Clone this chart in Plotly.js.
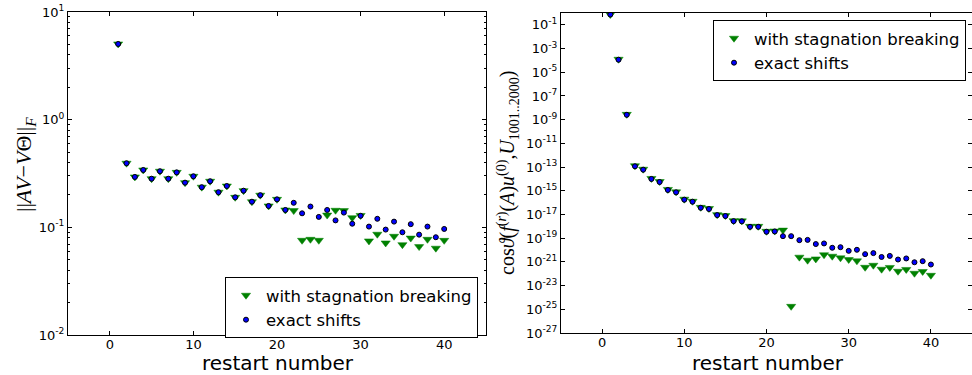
<!DOCTYPE html>
<html>
<head>
<meta charset="utf-8">
<script src="https://cdn.plot.ly/plotly-3.0.1.min.js"></script>
<style>html,body{margin:0;padding:0;background:#fff;}#chart{width:972px;height:375px;}</style>
</head>
<body>
<div id="chart"></div>
<script>
const restarts = [1,2,3,4,5,6,7,8,9,10,11,12,13,14,15,16,17,18,19,20,21,22,23,24,25,26,27,28,29,30,31,32,33,34,35,36,37,38,39,40];

// Left panel: ||AV - VΘ||_F
const leftExact = [5.05,0.394,0.294,0.341,0.283,0.332,0.283,0.324,0.260,0.298,0.236,0.268,0.212,0.242,0.190,0.219,0.173,0.199,0.158,0.182,0.145,0.169,0.135,0.156,0.125,0.145,0.116,0.137,0.108,0.128,0.1016,0.120,0.0953,0.113,0.090,0.107,0.0855,0.1016,0.0809,0.0966];
const leftStag = [5.05,0.394,0.294,0.341,0.283,0.332,0.283,0.324,0.260,0.298,0.236,0.268,0.212,0.242,0.190,0.219,0.173,0.199,0.158,0.182,0.145,0.143,0.0758,0.0774,0.0758,0.130,0.144,0.143,0.123,0.129,0.0748,0.0863,0.0716,0.0826,0.069,0.0795,0.0662,0.0774,0.064,0.0757];

// Right panel: cos angle
const rightExact = [0.741,1.15e-4,2.57e-9,1.17e-13,6.03e-14,1.0e-14,5.5e-15,1.17e-15,7.4e-16,1.78e-16,1.2e-16,3.7e-17,2.9e-17,8.9e-18,7.4e-18,2.75e-18,2.63e-18,9.1e-19,9.1e-19,3.47e-19,3.7e-19,1.48e-19,1.48e-19,6.8e-20,7.2e-20,3.2e-20,3.6e-20,1.55e-20,1.74e-20,8.5e-21,1.05e-20,4.5e-21,5.5e-21,2.6e-21,3.2e-21,1.58e-21,1.95e-21,9.3e-22,1.15e-21,6.0e-22];
const rightStag = [0.741,1.25e-4,2.8e-9,1.3e-13,6.6e-14,1.1e-14,6.0e-15,1.3e-15,8.1e-16,1.95e-16,1.3e-16,4.0e-17,3.2e-17,9.7e-18,8.1e-18,3.0e-18,2.9e-18,1.0e-18,1.0e-18,3.8e-19,4.0e-19,4.8e-19,1.78e-25,2.5e-21,1.38e-21,1.78e-21,4.0e-21,3.0e-21,2.2e-21,1.58e-21,1.23e-21,3.5e-22,5.2e-22,2.4e-22,3.4e-22,1.62e-22,2.3e-22,1.1e-22,1.55e-22,7.4e-23];

const xTicks = [0,10,20,30,40];
const leftYTicks = [0.01,0.1,1,10];
const leftYTickText = ['10<sup>-2</sup>','10<sup>-1</sup>','10<sup>0</sup>','10<sup>1</sup>'];
const rightYTicks = [1e-27,1e-25,1e-23,1e-21,1e-19,1e-17,1e-15,1e-13,1e-11,1e-9,1e-7,1e-5,1e-3,1e-1];
const rightYTickText = ['10<sup>-27</sup>','10<sup>-25</sup>','10<sup>-23</sup>','10<sup>-21</sup>','10<sup>-19</sup>','10<sup>-17</sup>','10<sup>-15</sup>','10<sup>-13</sup>','10<sup>-11</sup>','10<sup>-9</sup>','10<sup>-7</sup>','10<sup>-5</sup>','10<sup>-3</sup>','10<sup>-1</sup>'];
const seriesNames = ['with stagnation breaking','exact shifts'];

// minor tick positions for the left log axis (2..9 per decade)
const leftMinor = [];
[0.01,0.1,1].forEach(function(d){ for (let k=2;k<=9;k++) leftMinor.push(d*k); });

const green = '#008000', blue = '#0000ff';
const tickFont = {family:'DejaVu Sans', size:13, color:'#000'};

function triTrace(y, xa, ya, leg){
  return {x:restarts, y:y, xaxis:xa, yaxis:ya, mode:'markers', type:'scatter', name:seriesNames[0], legend:leg,
    marker:{symbol:'triangle-down', size:8, color:green, line:{color:green, width:0.5}}};
}
function dotTrace(y, xa, ya, leg){
  return {x:restarts, y:y, xaxis:xa, yaxis:ya, mode:'markers', type:'scatter', name:seriesNames[1], legend:leg,
    marker:{symbol:'circle', size:5, color:blue, line:{color:'#000', width:1}}};
}

const data = [
  triTrace(leftStag,'x','y','legend'),
  dotTrace(leftExact,'x','y','legend'),
  triTrace(rightStag,'x2','y2','legend2'),
  dotTrace(rightExact,'x2','y2','legend2')
];

const axCommon = {showline:true, linecolor:'#000', linewidth:1, mirror:'ticks', ticks:'inside', ticklen:4, tickcolor:'#000',
  showgrid:false, zeroline:false, tickfont:tickFont};

const legCommon = {bgcolor:'#fff', bordercolor:'#000', borderwidth:1, font:{family:'DejaVu Sans', size:16.5, color:'#000'},
  tracegroupgap:0, itemwidth:30};

const layout = {
  width:972, height:375, margin:{l:0,r:0,t:0,b:0},
  paper_bgcolor:'#fff', plot_bgcolor:'#fff',
  showlegend:true,
  xaxis:Object.assign({}, axCommon, {domain:[68/972, 486/972], range:[-5,45], tickvals:xTicks, anchor:'y', ticklabelstandoff:-3}),
  yaxis:Object.assign({}, axCommon, {domain:[1-335/375, 1-12/375], type:'log', range:[-2,1],
    tickvals:leftYTicks, ticktext:leftYTickText, anchor:'x',
    minor:{ticks:'inside', ticklen:2, tickcolor:'#000', tickvals:leftMinor, showgrid:false}}),
  xaxis2:Object.assign({}, axCommon, {domain:[561/972, 1], range:[-5,45], tickvals:xTicks, anchor:'y2', ticklabelstandoff:-3}),
  yaxis2:Object.assign({}, axCommon, {domain:[1-333/375, 1-13/375], type:'log', range:[-27,0],
    tickvals:rightYTicks, ticktext:rightYTickText, anchor:'x2'}),
  legend:Object.assign({}, legCommon, {x:478/972, xanchor:'right', y:1-277/375, yanchor:'top'}),
  legend2:Object.assign({}, legCommon, {x:966/972, xanchor:'right', y:1-20/375, yanchor:'top'}),
  annotations:[
    {text:'restart number', xref:'paper', yref:'paper', x:278/972, y:1-363/375, xanchor:'center', yanchor:'middle',
      showarrow:false, font:{family:'DejaVu Sans', size:20, color:'#000'}},
    {text:'restart number', xref:'paper', yref:'paper', x:768/972, y:1-363/375, xanchor:'center', yanchor:'middle',
      showarrow:false, font:{family:'DejaVu Sans', size:20, color:'#000'}},
    {text:'||<i>AV</i>\u2212<i>V</i>\u0398||<sub><i>F</i></sub>', xref:'paper', yref:'paper', x:25/972, y:1-165/375,
      xanchor:'center', yanchor:'middle',
      textangle:-90, showarrow:false, font:{family:'Liberation Serif', size:22, color:'#000'}},
    {text:'cos<i>\u03d1</i>(<i>f</i><sup>(<i>r</i>)</sup>(<i>A</i>)<i>u</i><sup>(0)</sup>,<i>U</i><sub>1001..2000</sub>)',
      xref:'paper', yref:'paper', x:508/972, y:1-172/375, xanchor:'center', yanchor:'middle',
      textangle:-90, showarrow:false, font:{family:'Liberation Serif', size:20, color:'#000'}}
  ]
};

Plotly.newPlot('chart', data, layout, {staticPlot:true, displayModeBar:false});
</script>
</body>
</html>
